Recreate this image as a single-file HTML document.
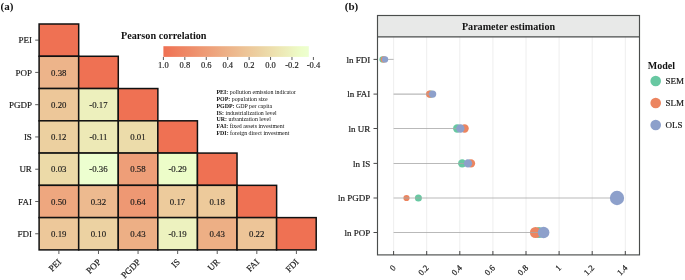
<!DOCTYPE html><html><head><meta charset="utf-8"><style>html,body{margin:0;padding:0;background:#fff;width:685px;height:280px;overflow:hidden}svg{display:block}#w{width:685px;height:280px;will-change:transform}text{font-family:"Liberation Serif", serif}.t{fill:#1a1a1a;stroke:#1a1a1a;stroke-width:0.2px}.v{fill:#1a1a1a;stroke:#1a1a1a;stroke-width:0.15px}</style></head><body>
<div id="w"><svg width="685" height="280" viewBox="0 0 685 280">
<g>
<rect width="685" height="280" fill="#fff"/>
<text x="0.5" y="9.5" font-size="11" font-weight="bold" fill="#111">(a)</text>
<text x="344.8" y="9.8" font-size="11" font-weight="bold" fill="#111">(b)</text>
<rect x="39.10" y="24.00" width="39.59" height="32.27" fill="#ef7153" stroke="#111" stroke-width="1.5"/>
<rect x="39.10" y="56.27" width="39.59" height="32.27" fill="#edb48a" stroke="#111" stroke-width="1.5"/>
<text x="58.79" y="75.61" font-size="8.8" text-anchor="middle" class="v">0.38</text>
<rect x="78.69" y="56.27" width="39.59" height="32.27" fill="#ef7153" stroke="#111" stroke-width="1.5"/>
<rect x="39.10" y="88.54" width="39.59" height="32.27" fill="#edc799" stroke="#111" stroke-width="1.5"/>
<text x="58.79" y="107.88" font-size="8.8" text-anchor="middle" class="v">0.20</text>
<rect x="78.69" y="88.54" width="39.59" height="32.27" fill="#edf0bd" stroke="#111" stroke-width="1.5"/>
<text x="98.38" y="107.88" font-size="8.8" text-anchor="middle" class="v">-0.17</text>
<rect x="118.27" y="88.54" width="39.59" height="32.27" fill="#ef7153" stroke="#111" stroke-width="1.5"/>
<rect x="39.10" y="120.81" width="39.59" height="32.27" fill="#ecd0a0" stroke="#111" stroke-width="1.5"/>
<text x="58.79" y="140.14" font-size="8.8" text-anchor="middle" class="v">0.12</text>
<rect x="78.69" y="120.81" width="39.59" height="32.27" fill="#ede9b6" stroke="#111" stroke-width="1.5"/>
<text x="98.38" y="140.14" font-size="8.8" text-anchor="middle" class="v">-0.11</text>
<rect x="118.27" y="120.81" width="39.59" height="32.27" fill="#ecdcaa" stroke="#111" stroke-width="1.5"/>
<text x="137.96" y="140.14" font-size="8.8" text-anchor="middle" class="v">0.01</text>
<rect x="157.85" y="120.81" width="39.59" height="32.27" fill="#ef7153" stroke="#111" stroke-width="1.5"/>
<rect x="39.10" y="153.08" width="39.59" height="32.27" fill="#ecdaa8" stroke="#111" stroke-width="1.5"/>
<text x="58.79" y="172.41" font-size="8.8" text-anchor="middle" class="v">0.03</text>
<rect x="78.69" y="153.08" width="39.59" height="32.27" fill="#edffd0" stroke="#111" stroke-width="1.5"/>
<text x="98.38" y="172.41" font-size="8.8" text-anchor="middle" class="v">-0.36</text>
<rect x="118.27" y="153.08" width="39.59" height="32.27" fill="#ee9e78" stroke="#111" stroke-width="1.5"/>
<text x="137.96" y="172.41" font-size="8.8" text-anchor="middle" class="v">0.58</text>
<rect x="157.85" y="153.08" width="39.59" height="32.27" fill="#edfdc9" stroke="#111" stroke-width="1.5"/>
<text x="177.55" y="172.41" font-size="8.8" text-anchor="middle" class="v">-0.29</text>
<rect x="197.44" y="153.08" width="39.59" height="32.27" fill="#ef7153" stroke="#111" stroke-width="1.5"/>
<rect x="39.10" y="185.35" width="39.59" height="32.27" fill="#eea77f" stroke="#111" stroke-width="1.5"/>
<text x="58.79" y="204.69" font-size="8.8" text-anchor="middle" class="v">0.50</text>
<rect x="78.69" y="185.35" width="39.59" height="32.27" fill="#edba8f" stroke="#111" stroke-width="1.5"/>
<text x="98.38" y="204.69" font-size="8.8" text-anchor="middle" class="v">0.32</text>
<rect x="118.27" y="185.35" width="39.59" height="32.27" fill="#ee9873" stroke="#111" stroke-width="1.5"/>
<text x="137.96" y="204.69" font-size="8.8" text-anchor="middle" class="v">0.64</text>
<rect x="157.85" y="185.35" width="39.59" height="32.27" fill="#edcb9c" stroke="#111" stroke-width="1.5"/>
<text x="177.55" y="204.69" font-size="8.8" text-anchor="middle" class="v">0.17</text>
<rect x="197.44" y="185.35" width="39.59" height="32.27" fill="#edca9b" stroke="#111" stroke-width="1.5"/>
<text x="217.13" y="204.69" font-size="8.8" text-anchor="middle" class="v">0.18</text>
<rect x="237.03" y="185.35" width="39.59" height="32.27" fill="#ef7153" stroke="#111" stroke-width="1.5"/>
<rect x="39.10" y="217.62" width="39.59" height="32.27" fill="#edc89a" stroke="#111" stroke-width="1.5"/>
<text x="58.79" y="236.95" font-size="8.8" text-anchor="middle" class="v">0.19</text>
<rect x="78.69" y="217.62" width="39.59" height="32.27" fill="#ecd2a2" stroke="#111" stroke-width="1.5"/>
<text x="98.38" y="236.95" font-size="8.8" text-anchor="middle" class="v">0.10</text>
<rect x="118.27" y="217.62" width="39.59" height="32.27" fill="#edaf85" stroke="#111" stroke-width="1.5"/>
<text x="137.96" y="236.95" font-size="8.8" text-anchor="middle" class="v">0.43</text>
<rect x="157.85" y="217.62" width="39.59" height="32.27" fill="#edf2bf" stroke="#111" stroke-width="1.5"/>
<text x="177.55" y="236.95" font-size="8.8" text-anchor="middle" class="v">-0.19</text>
<rect x="197.44" y="217.62" width="39.59" height="32.27" fill="#edaf85" stroke="#111" stroke-width="1.5"/>
<text x="217.13" y="236.95" font-size="8.8" text-anchor="middle" class="v">0.43</text>
<rect x="237.03" y="217.62" width="39.59" height="32.27" fill="#edc598" stroke="#111" stroke-width="1.5"/>
<text x="256.72" y="236.95" font-size="8.8" text-anchor="middle" class="v">0.22</text>
<rect x="276.61" y="217.62" width="39.59" height="32.27" fill="#ef7153" stroke="#111" stroke-width="1.5"/>
<line x1="35.2" x2="38.8" y1="40.14" y2="40.14" stroke="#333" stroke-width="0.8"/>
<text x="31.9" y="43.34" font-size="9" text-anchor="end" class="t">PEI</text>
<line x1="35.2" x2="38.8" y1="72.41" y2="72.41" stroke="#333" stroke-width="0.8"/>
<text x="31.9" y="75.61" font-size="9" text-anchor="end" class="t">POP</text>
<line x1="35.2" x2="38.8" y1="104.68" y2="104.68" stroke="#333" stroke-width="0.8"/>
<text x="31.9" y="107.88" font-size="9" text-anchor="end" class="t">PGDP</text>
<line x1="35.2" x2="38.8" y1="136.94" y2="136.94" stroke="#333" stroke-width="0.8"/>
<text x="31.9" y="140.14" font-size="9" text-anchor="end" class="t">IS</text>
<line x1="35.2" x2="38.8" y1="169.22" y2="169.22" stroke="#333" stroke-width="0.8"/>
<text x="31.9" y="172.41" font-size="9" text-anchor="end" class="t">UR</text>
<line x1="35.2" x2="38.8" y1="201.49" y2="201.49" stroke="#333" stroke-width="0.8"/>
<text x="31.9" y="204.69" font-size="9" text-anchor="end" class="t">FAI</text>
<line x1="35.2" x2="38.8" y1="233.75" y2="233.75" stroke="#333" stroke-width="0.8"/>
<text x="31.9" y="236.95" font-size="9" text-anchor="end" class="t">FDI</text>
<line x1="58.89" x2="58.89" y1="250.6" y2="254" stroke="#333" stroke-width="0.8"/>
<text x="61.89" y="262.50" font-size="9.0" text-anchor="end" class="t" transform="rotate(-45 61.89 262.50)">PEI</text>
<line x1="98.48" x2="98.48" y1="250.6" y2="254" stroke="#333" stroke-width="0.8"/>
<text x="101.48" y="262.50" font-size="9.0" text-anchor="end" class="t" transform="rotate(-45 101.48 262.50)">POP</text>
<line x1="138.06" x2="138.06" y1="250.6" y2="254" stroke="#333" stroke-width="0.8"/>
<text x="141.06" y="262.50" font-size="9.0" text-anchor="end" class="t" transform="rotate(-45 141.06 262.50)">PGDP</text>
<line x1="177.65" x2="177.65" y1="250.6" y2="254" stroke="#333" stroke-width="0.8"/>
<text x="180.65" y="262.50" font-size="9.0" text-anchor="end" class="t" transform="rotate(-45 180.65 262.50)">IS</text>
<line x1="217.23" x2="217.23" y1="250.6" y2="254" stroke="#333" stroke-width="0.8"/>
<text x="220.23" y="262.50" font-size="9.0" text-anchor="end" class="t" transform="rotate(-45 220.23 262.50)">UR</text>
<line x1="256.82" x2="256.82" y1="250.6" y2="254" stroke="#333" stroke-width="0.8"/>
<text x="259.82" y="262.50" font-size="9.0" text-anchor="end" class="t" transform="rotate(-45 259.82 262.50)">FAI</text>
<line x1="296.40" x2="296.40" y1="250.6" y2="254" stroke="#333" stroke-width="0.8"/>
<text x="299.40" y="262.50" font-size="9.0" text-anchor="end" class="t" transform="rotate(-45 299.40 262.50)">FDI</text>
<text x="121.0" y="38.7" font-size="10.2" font-weight="bold" fill="#111">Pearson correlation</text>
<defs><linearGradient id="cb" x1="0" x2="1" y1="0" y2="0">
<stop offset="0.000" stop-color="#ef7153"/>
<stop offset="0.050" stop-color="#ef7859"/>
<stop offset="0.100" stop-color="#ef805f"/>
<stop offset="0.150" stop-color="#ee8765"/>
<stop offset="0.200" stop-color="#ee8e6b"/>
<stop offset="0.250" stop-color="#ee9671"/>
<stop offset="0.300" stop-color="#ee9d77"/>
<stop offset="0.350" stop-color="#eea47d"/>
<stop offset="0.400" stop-color="#edac83"/>
<stop offset="0.450" stop-color="#edb389"/>
<stop offset="0.500" stop-color="#edba8f"/>
<stop offset="0.550" stop-color="#edc295"/>
<stop offset="0.600" stop-color="#edc99b"/>
<stop offset="0.650" stop-color="#ecd0a1"/>
<stop offset="0.700" stop-color="#ecd8a7"/>
<stop offset="0.750" stop-color="#eddfad"/>
<stop offset="0.800" stop-color="#ede7b4"/>
<stop offset="0.850" stop-color="#edeebb"/>
<stop offset="0.900" stop-color="#edf6c2"/>
<stop offset="0.950" stop-color="#edfdc9"/>
<stop offset="1.000" stop-color="#edffd0"/>
</linearGradient></defs>
<rect x="163.40" y="46.2" width="145.40" height="10.7" fill="url(#cb)"/>
<line x1="163.40" x2="163.40" y1="57.0" y2="60.0" stroke="#333" stroke-width="0.8"/>
<text x="163.40" y="68.4" font-size="8.5" text-anchor="middle" class="v">1.0</text>
<line x1="184.83" x2="184.83" y1="57.0" y2="60.0" stroke="#333" stroke-width="0.8"/>
<text x="184.83" y="68.4" font-size="8.5" text-anchor="middle" class="v">0.8</text>
<line x1="206.26" x2="206.26" y1="57.0" y2="60.0" stroke="#333" stroke-width="0.8"/>
<text x="206.26" y="68.4" font-size="8.5" text-anchor="middle" class="v">0.6</text>
<line x1="227.69" x2="227.69" y1="57.0" y2="60.0" stroke="#333" stroke-width="0.8"/>
<text x="227.69" y="68.4" font-size="8.5" text-anchor="middle" class="v">0.4</text>
<line x1="249.12" x2="249.12" y1="57.0" y2="60.0" stroke="#333" stroke-width="0.8"/>
<text x="249.12" y="68.4" font-size="8.5" text-anchor="middle" class="v">0.2</text>
<line x1="270.55" x2="270.55" y1="57.0" y2="60.0" stroke="#333" stroke-width="0.8"/>
<text x="270.55" y="68.4" font-size="8.5" text-anchor="middle" class="v">0.0</text>
<line x1="291.98" x2="291.98" y1="57.0" y2="60.0" stroke="#333" stroke-width="0.8"/>
<text x="291.98" y="68.4" font-size="8.5" text-anchor="middle" class="v">-0.2</text>
<line x1="313.41" x2="313.41" y1="57.0" y2="60.0" stroke="#333" stroke-width="0.8"/>
<text x="313.41" y="68.4" font-size="8.5" text-anchor="middle" class="v">-0.4</text>
<text x="216.5" y="94.00" font-size="5.9" fill="#111"><tspan font-weight="bold">PEI:</tspan> pollution emission indicator</text>
<text x="216.5" y="100.85" font-size="5.9" fill="#111"><tspan font-weight="bold">POP:</tspan> population size</text>
<text x="216.5" y="107.70" font-size="5.9" fill="#111"><tspan font-weight="bold">PGDP:</tspan> GDP per capita</text>
<text x="216.5" y="114.55" font-size="5.9" fill="#111"><tspan font-weight="bold">IS:</tspan> industrialization level</text>
<text x="216.5" y="121.40" font-size="5.9" fill="#111"><tspan font-weight="bold">UR:</tspan> urbanization level</text>
<text x="216.5" y="128.25" font-size="5.9" fill="#111"><tspan font-weight="bold">FAI:</tspan> fixed assets investment</text>
<text x="216.5" y="135.10" font-size="5.9" fill="#111"><tspan font-weight="bold">FDI:</tspan> foreign direct investment</text>
<rect x="377.50" y="15.50" width="262.00" height="21.30" fill="#e8e9e8" stroke="none"/>
<line x1="393.60" x2="393.60" y1="36.80" y2="254.90" stroke="#ececec" stroke-width="0.9"/>
<line x1="426.70" x2="426.70" y1="36.80" y2="254.90" stroke="#ececec" stroke-width="0.9"/>
<line x1="459.80" x2="459.80" y1="36.80" y2="254.90" stroke="#ececec" stroke-width="0.9"/>
<line x1="492.90" x2="492.90" y1="36.80" y2="254.90" stroke="#ececec" stroke-width="0.9"/>
<line x1="526.00" x2="526.00" y1="36.80" y2="254.90" stroke="#ececec" stroke-width="0.9"/>
<line x1="559.10" x2="559.10" y1="36.80" y2="254.90" stroke="#ececec" stroke-width="0.9"/>
<line x1="592.20" x2="592.20" y1="36.80" y2="254.90" stroke="#ececec" stroke-width="0.9"/>
<line x1="625.30" x2="625.30" y1="36.80" y2="254.90" stroke="#ececec" stroke-width="0.9"/>
<line x1="373.5" x2="377.5" y1="59.40" y2="59.40" stroke="#333" stroke-width="0.9"/>
<text x="370.3" y="62.60" font-size="9" text-anchor="end" class="t">ln FDI</text>
<line x1="373.5" x2="377.5" y1="94.10" y2="94.10" stroke="#333" stroke-width="0.9"/>
<text x="370.3" y="97.30" font-size="9" text-anchor="end" class="t">ln FAI</text>
<line x1="373.5" x2="377.5" y1="128.50" y2="128.50" stroke="#333" stroke-width="0.9"/>
<text x="370.3" y="131.70" font-size="9" text-anchor="end" class="t">ln UR</text>
<line x1="373.5" x2="377.5" y1="163.40" y2="163.40" stroke="#333" stroke-width="0.9"/>
<text x="370.3" y="166.60" font-size="9" text-anchor="end" class="t">ln IS</text>
<line x1="373.5" x2="377.5" y1="198.00" y2="198.00" stroke="#333" stroke-width="0.9"/>
<text x="370.3" y="201.20" font-size="9" text-anchor="end" class="t">ln PGDP</text>
<line x1="373.5" x2="377.5" y1="232.50" y2="232.50" stroke="#333" stroke-width="0.9"/>
<text x="370.3" y="235.70" font-size="9" text-anchor="end" class="t">ln POP</text>
<circle cx="382.55" cy="59.40" r="3.15" fill="#68c8a2"/>
<circle cx="383.85" cy="59.40" r="3.15" fill="#ec8560"/>
<line x1="393.60" x2="385.05" y1="59.40" y2="59.40" stroke="#a8a8a8" stroke-opacity="0.8" stroke-width="1.05"/>
<circle cx="385.05" cy="59.40" r="3.15" fill="#8da0cb"/>
<circle cx="430.50" cy="94.10" r="3.65" fill="#68c8a2"/>
<circle cx="429.65" cy="94.10" r="3.65" fill="#ec8560"/>
<line x1="393.60" x2="432.60" y1="94.10" y2="94.10" stroke="#a8a8a8" stroke-opacity="0.8" stroke-width="1.05"/>
<circle cx="432.60" cy="94.10" r="3.65" fill="#8da0cb"/>
<circle cx="457.20" cy="128.50" r="4.15" fill="#68c8a2"/>
<circle cx="464.60" cy="128.50" r="4.15" fill="#ec8560"/>
<line x1="393.60" x2="460.40" y1="128.50" y2="128.50" stroke="#a8a8a8" stroke-opacity="0.8" stroke-width="1.05"/>
<circle cx="460.40" cy="128.50" r="4.15" fill="#8da0cb"/>
<circle cx="462.20" cy="163.40" r="4.15" fill="#68c8a2"/>
<circle cx="471.00" cy="163.40" r="4.15" fill="#ec8560"/>
<line x1="393.60" x2="468.00" y1="163.40" y2="163.40" stroke="#a8a8a8" stroke-opacity="0.8" stroke-width="1.05"/>
<circle cx="468.00" cy="163.40" r="4.15" fill="#8da0cb"/>
<circle cx="418.40" cy="198.00" r="3.50" fill="#68c8a2"/>
<circle cx="406.50" cy="198.00" r="3.10" fill="#ec8560"/>
<line x1="393.60" x2="617.00" y1="198.00" y2="198.00" stroke="#a8a8a8" stroke-opacity="0.8" stroke-width="1.05"/>
<circle cx="617.00" cy="198.00" r="7.15" fill="#8da0cb"/>
<circle cx="539.00" cy="232.50" r="5.60" fill="#68c8a2"/>
<circle cx="535.50" cy="232.50" r="5.60" fill="#ec8560"/>
<line x1="393.60" x2="543.60" y1="232.50" y2="232.50" stroke="#a8a8a8" stroke-opacity="0.8" stroke-width="1.05"/>
<circle cx="543.60" cy="232.50" r="5.80" fill="#8da0cb"/>
<rect x="377.50" y="15.50" width="262.00" height="239.40" fill="none" stroke="#4a4d4c" stroke-width="1.15"/>
<line x1="377.50" x2="639.50" y1="36.80" y2="36.80" stroke="#4a4d4c" stroke-width="1.15"/>
<text x="508.5" y="29.8" font-size="10.1" font-weight="bold" text-anchor="middle" fill="#111">Parameter estimation</text>
<line x1="393.60" x2="393.60" y1="251" y2="254.90" stroke="#333" stroke-width="0.9"/>
<text x="396.30" y="268.40" font-size="8.6" text-anchor="end" class="t" transform="rotate(-45 396.30 268.40)">0</text>
<line x1="426.70" x2="426.70" y1="251" y2="254.90" stroke="#333" stroke-width="0.9"/>
<text x="429.40" y="268.40" font-size="8.6" text-anchor="end" class="t" transform="rotate(-45 429.40 268.40)">0.2</text>
<line x1="459.80" x2="459.80" y1="251" y2="254.90" stroke="#333" stroke-width="0.9"/>
<text x="462.50" y="268.40" font-size="8.6" text-anchor="end" class="t" transform="rotate(-45 462.50 268.40)">0.4</text>
<line x1="492.90" x2="492.90" y1="251" y2="254.90" stroke="#333" stroke-width="0.9"/>
<text x="495.60" y="268.40" font-size="8.6" text-anchor="end" class="t" transform="rotate(-45 495.60 268.40)">0.6</text>
<line x1="526.00" x2="526.00" y1="251" y2="254.90" stroke="#333" stroke-width="0.9"/>
<text x="528.70" y="268.40" font-size="8.6" text-anchor="end" class="t" transform="rotate(-45 528.70 268.40)">0.8</text>
<line x1="559.10" x2="559.10" y1="251" y2="254.90" stroke="#333" stroke-width="0.9"/>
<text x="561.80" y="268.40" font-size="8.6" text-anchor="end" class="t" transform="rotate(-45 561.80 268.40)">1</text>
<line x1="592.20" x2="592.20" y1="251" y2="254.90" stroke="#333" stroke-width="0.9"/>
<text x="594.90" y="268.40" font-size="8.6" text-anchor="end" class="t" transform="rotate(-45 594.90 268.40)">1.2</text>
<line x1="625.30" x2="625.30" y1="251" y2="254.90" stroke="#333" stroke-width="0.9"/>
<text x="628.00" y="268.40" font-size="8.6" text-anchor="end" class="t" transform="rotate(-45 628.00 268.40)">1.4</text>
<text x="647.8" y="69.2" font-size="10" font-weight="bold" fill="#111">Model</text>
<circle cx="655.7" cy="81.00" r="5.3" fill="#68c8a2"/>
<text x="665.5" y="84.20" font-size="9" class="t">SEM</text>
<circle cx="655.7" cy="103.00" r="5.3" fill="#ec8560"/>
<text x="665.5" y="106.20" font-size="9" class="t">SLM</text>
<circle cx="655.7" cy="125.00" r="5.3" fill="#8da0cb"/>
<text x="665.5" y="128.20" font-size="9" class="t">OLS</text>
</g></svg></div></body></html>
